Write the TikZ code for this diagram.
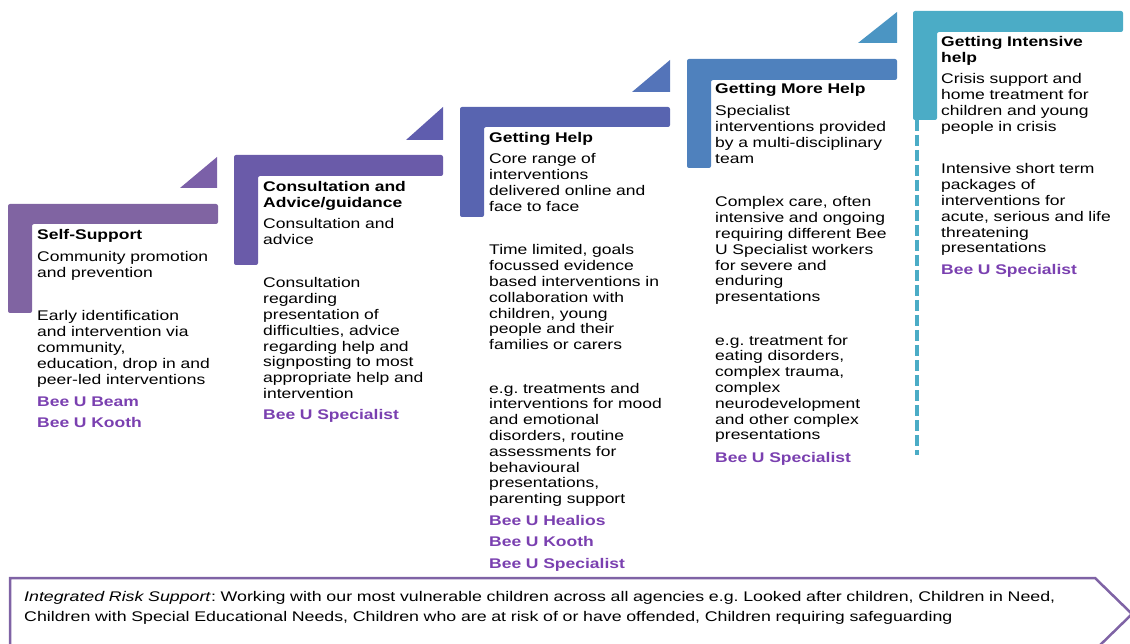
\documentclass[tikz,border=0pt]{standalone}
\usepackage{fontspec}
\setmainfont{Liberation Sans}[FakeStretch=1.25]
\newfontfamily\bottomfont{Liberation Sans}[FakeStretch=1.27]
\definecolor{sA}{HTML}{8064A2}
\definecolor{tA}{HTML}{7B60A8}
\definecolor{sB}{HTML}{6A5BA9}
\definecolor{tB}{HTML}{5F5DAE}
\definecolor{sC}{HTML}{5864B0}
\definecolor{tC}{HTML}{5474B9}
\definecolor{sD}{HTML}{4F81BD}
\definecolor{tD}{HTML}{4B95C3}
\definecolor{sE}{HTML}{4BACC6}
\definecolor{beeu}{HTML}{7A40B0}
\definecolor{arrowc}{HTML}{7F63A5}
\begin{document}
\frenchspacing
\begin{tikzpicture}[x=1pt,y=-1pt,
  txt/.style={anchor=base west, inner sep=0pt, text width=250pt, align=left, font=\frenchspacing\fontsize{14}{15.8}\selectfont, text=black},
  ttl/.style={txt, font=\bfseries\fontsize{14}{15.8}\selectfont},
  bee/.style={txt, font=\bfseries\fontsize{14}{21.5}\selectfont, text=beeu},
  bracket/.style={rounded corners=2pt},
]
\useasboundingbox (0,0) rectangle (1130,644);
\clip (0,0) rectangle (1130,644);

% step brackets
\fill[sA, bracket] (8,204) -- (218,204) -- (218,224) -- (32,224) -- (32,313) -- (8,313) -- cycle;
\fill[tA] (180,188) -- (217,157) -- (217,188) -- cycle;
\fill[sB, bracket] (234,155) -- (443,155) -- (443,176) -- (258,176) -- (258,265) -- (234,265) -- cycle;
\fill[tB] (406,140) -- (443,107) -- (443,140) -- cycle;
\fill[sC, bracket] (460,107) -- (670,107) -- (670,127) -- (484,127) -- (484,217) -- (460,217) -- cycle;
\fill[tC] (632,92) -- (670,60) -- (670,92) -- cycle;
\fill[sD, bracket] (687,59) -- (897,59) -- (897,80) -- (711,80) -- (711,168) -- (687,168) -- cycle;
\fill[tD] (858,43) -- (897,12) -- (897,43) -- cycle;
\fill[sE, bracket] (913,11) -- (1123,11) -- (1123,32) -- (937,32) -- (937,120) -- (913,120) -- cycle;
\coordinate (dtop) at (917,120);
\coordinate (dbot) at (917,455);
\draw[sE, line width=4.5pt, dash pattern=on 11pt off 4pt] (dtop) -- (dbot);

% bottom arrow
\draw[arrowc, line width=2.5pt, line join=miter] (10,660) -- (10,578) -- (1095,578) -- (1132,614) -- (1095,650);

% step 1
\node[ttl] (t1) at (37,240) {Self-Support};
\node[txt] (a1) at (37,262) {Community promotion\\and prevention};
\node[txt] (b1) at (37,321) {Early identification\\and intervention via\\community,\\education, drop in and\\peer-led interventions};
\node[bee] (c1) at (37,406) {Bee U Beam\\Bee U Kooth};

% step 2
\node[ttl] (t2) at (263,192) {Consultation and\\Advice/guidance};
\node[txt] (a2) at (263,229) {Consultation and\\advice};
\node[txt] (b2) at (263,288) {Consultation\\regarding\\presentation of\\difficulties, advice\\regarding help and\\signposting to most\\appropriate help and\\intervention};
\node[bee] (c2) at (263,419) {Bee U Specialist};

% step 3
\node[ttl] (t3) at (489,143) {Getting Help};
\node[txt] (a3) at (489,164) {Core range of\\interventions\\delivered online and\\face to face};
\node[txt] (b3) at (489,255) {Time limited, goals\\focussed evidence\\based interventions in\\collaboration with\\children, young\\people and their\\families or carers};
\node[txt] (d3) at (489,393) {e.g.\ treatments and\\interventions for mood\\and emotional\\disorders, routine\\assessments for\\behavioural\\presentations,\\parenting support};
\node[bee] (c3) at (489,525) {Bee U Healios\\Bee U Kooth\\Bee U Specialist};

% step 4
\node[ttl] (t4) at (715,94) {Getting More Help};
\node[txt] (a4) at (715,116) {Specialist\\interventions provided\\by a multi-disciplinary\\team};
\node[txt] (b4) at (715,207) {Complex care, often\\intensive and ongoing\\requiring different Bee\\U Specialist workers\\for severe and\\enduring\\presentations};
\node[txt] (d4) at (715,345) {e.g.\ treatment for\\eating disorders,\\complex trauma,\\complex\\neurodevelopment\\and other complex\\presentations};
\node[bee] (c4) at (715,462) {Bee U Specialist};

% step 5
\node[ttl] (t5) at (941,47) {Getting Intensive\\help};
\node[txt] (a5) at (941,84) {Crisis support and\\home treatment for\\children and young\\people in crisis};
\node[txt] (b5) at (941,174) {Intensive short term\\packages of\\interventions for\\acute, serious and life\\threatening\\presentations};
\node[bee] (c5) at (941,275) {Bee U Specialist};

% bottom text
\node[txt, text width=1090pt, font=\bottomfont\frenchspacing\fontsize{14}{20}\selectfont] (irs) at (24,601) {\textit{Integrated Risk Support}: Working with our most vulnerable children across all agencies e.g.\ Looked after children, Children in Need,\\Children with Special Educational Needs, Children who are at risk of or have offended, Children requiring safeguarding};
\end{tikzpicture}
\end{document}
